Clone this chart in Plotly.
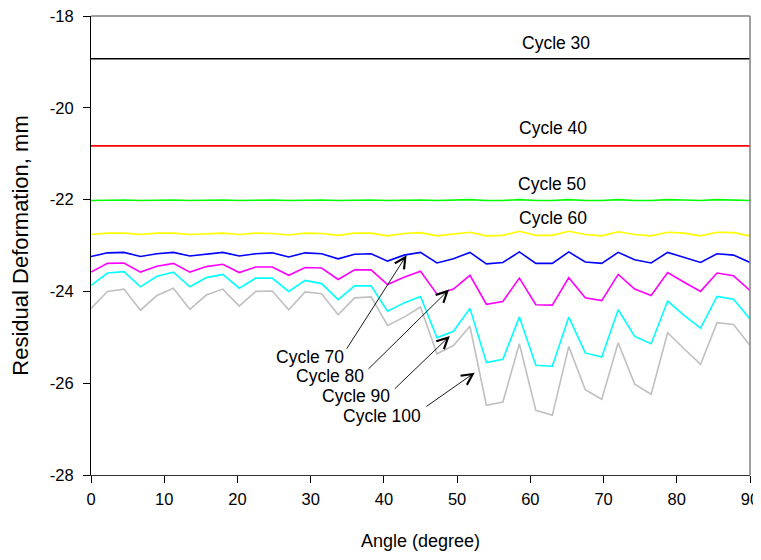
import plotly.graph_objects as go

angle = [0, 2.25, 4.5, 6.75, 9, 11.25, 13.5, 15.75, 18, 20.25, 22.5, 24.75, 27, 29.25,
         31.5, 33.75, 36, 38.25, 40.5, 42.75, 45, 47.25, 49.5, 51.75, 54, 56.25, 58.5,
         60.75, 63, 65.25, 67.5, 69.75, 72, 74.25, 76.5, 78.75, 81, 83.25, 85.5, 87.75, 90]

cycle30 = [-18.93, -18.93, -18.93, -18.93, -18.93, -18.93, -18.93, -18.93, -18.93, -18.93,
           -18.93, -18.93, -18.93, -18.93, -18.93, -18.93, -18.93, -18.93, -18.93, -18.93,
           -18.93, -18.93, -18.93, -18.93, -18.93, -18.93, -18.93, -18.93, -18.93, -18.93,
           -18.93, -18.93, -18.93, -18.93, -18.93, -18.93, -18.93, -18.93, -18.93, -18.93, -18.93]
cycle40 = [-20.83, -20.83, -20.83, -20.83, -20.83, -20.83, -20.83, -20.83, -20.83, -20.83,
           -20.83, -20.83, -20.83, -20.83, -20.83, -20.83, -20.83, -20.83, -20.83, -20.83,
           -20.83, -20.83, -20.83, -20.83, -20.83, -20.83, -20.83, -20.83, -20.83, -20.83,
           -20.83, -20.83, -20.83, -20.83, -20.83, -20.83, -20.83, -20.83, -20.83, -20.83, -20.83]
cycle50 = [-22.02, -22.01, -22.01, -22.02, -22.01, -22.01, -22.02, -22.01, -22.01, -22.02,
           -22.01, -22.01, -22.02, -22.01, -22.01, -22.02, -22.01, -22.01, -22.02, -22.01,
           -22.01, -22.02, -22.01, -22.00, -22.02, -22.02, -22.00, -22.02, -22.02, -22.00,
           -22.02, -22.02, -22.00, -22.02, -22.02, -22.00, -22.01, -22.02, -22.00, -22.01, -22.02]
cycle60 = [-22.76, -22.73, -22.73, -22.76, -22.73, -22.73, -22.76, -22.74, -22.73, -22.76,
           -22.73, -22.74, -22.77, -22.73, -22.74, -22.78, -22.73, -22.73, -22.79, -22.74,
           -22.72, -22.79, -22.75, -22.71, -22.79, -22.78, -22.69, -22.78, -22.78, -22.69,
           -22.76, -22.79, -22.70, -22.76, -22.79, -22.71, -22.73, -22.79, -22.71, -22.72, -22.79]
cycle70 = [-23.24, -23.16, -23.15, -23.24, -23.18, -23.15, -23.23, -23.19, -23.15, -23.23,
           -23.18, -23.16, -23.25, -23.16, -23.18, -23.29, -23.19, -23.18, -23.34, -23.21,
           -23.15, -23.38, -23.29, -23.15, -23.40, -23.37, -23.14, -23.39, -23.39, -23.14,
           -23.36, -23.39, -23.15, -23.31, -23.38, -23.15, -23.26, -23.37, -23.18, -23.21, -23.37]
cycle80 = [-23.58, -23.39, -23.38, -23.58, -23.45, -23.39, -23.58, -23.46, -23.41, -23.59,
           -23.47, -23.47, -23.65, -23.48, -23.49, -23.74, -23.53, -23.53, -23.85, -23.69,
           -23.56, -24.06, -23.95, -23.65, -24.28, -24.22, -23.71, -24.29, -24.30, -23.70,
           -24.14, -24.20, -23.63, -23.95, -24.09, -23.59, -23.80, -24.00, -23.60, -23.66, -23.98]
cycle90 = [-23.87, -23.60, -23.57, -23.90, -23.67, -23.58, -23.90, -23.70, -23.63, -23.93,
           -23.71, -23.71, -24.00, -23.76, -23.83, -24.18, -23.88, -23.88, -24.43, -24.25,
           -24.11, -25.01, -24.87, -24.37, -25.55, -25.48, -24.56, -25.61, -25.63, -24.56,
           -25.34, -25.43, -24.40, -24.98, -25.14, -24.21, -24.52, -24.80, -24.11, -24.17, -24.60]
cycle100 = [-24.37, -24.00, -23.95, -24.41, -24.09, -23.93, -24.39, -24.08, -23.95, -24.32,
            -24.00, -23.99, -24.40, -24.01, -24.05, -24.51, -24.14, -24.12, -24.74, -24.56,
            -24.34, -25.36, -25.18, -24.76, -26.48, -26.41, -25.14, -26.59, -26.70, -25.20,
            -26.14, -26.35, -25.12, -26.02, -26.24, -24.90, -25.25, -25.59, -24.68, -24.72, -25.18]

series_names = ["Cycle 30", "Cycle 40", "Cycle 50", "Cycle 60", "Cycle 70",
                "Cycle 80", "Cycle 90", "Cycle 100"]
series_values = [cycle30, cycle40, cycle50, cycle60, cycle70, cycle80, cycle90, cycle100]
series_colors = ["#000000", "#ff0000", "#00ff00", "#ffff00", "#0000ff",
                 "#ff00ff", "#00ffff", "#c0c0c0"]

x_ticks = [0, 10, 20, 30, 40, 50, 60, 70, 80, 90]
x_ticktext = ["0", "10", "20", "30", "40", "50", "60", "70", "80", "90"]
y_ticks = [-28, -26, -24, -22, -20, -18]
y_ticktext = ["-28", "-26", "-24", "-22", "-20", "-18"]

# plain labels (text position in data units)
top_labels = [("Cycle 30", 63.5, -18.59), ("Cycle 40", 63.1, -20.45),
              ("Cycle 50", 63.0, -21.67), ("Cycle 60", 63.1, -22.41)]
# arrow labels: text, text x, text y, arrow tail x, tail y, tip x, tip y
arrow_labels = [("Cycle 70", 29.9, -25.43, 34.8, -25.28, 43.1, -23.21),
                ("Cycle 80", 32.7, -25.85, 37.7, -25.72, 48.9, -23.96),
                ("Cycle 90", 36.2, -26.28, 41.3, -26.15, 49.0, -24.97),
                ("Cycle 100", 39.7, -26.72, 45.6, -26.53, 52.4, -25.77)]

FONT = "Liberation Sans, Arial, sans-serif"

fig = go.Figure()
for name, vals, col in zip(series_names, series_values, series_colors):
    fig.add_trace(go.Scatter(x=angle, y=vals, mode="lines", name=name,
                             line=dict(color=col, width=1.6), showlegend=False))

annotations = []
for txt, tx, ty in top_labels:
    annotations.append(dict(x=tx, y=ty, xref="x", yref="y", text=txt, showarrow=False,
                            font=dict(family=FONT, size=17.5, color="black")))
for txt, tx, ty, ax0, ay0, hx, hy in arrow_labels:
    annotations.append(dict(x=hx, y=hy, ax=ax0, ay=ay0, xref="x", yref="y",
                            axref="x", ayref="y", text="", showarrow=True,
                            arrowhead=5, arrowsize=2.4, arrowwidth=0.9,
                            arrowcolor="black", standoff=0, startstandoff=0))
    annotations.append(dict(x=tx, y=ty, xref="x", yref="y", text=txt, showarrow=False,
                            font=dict(family=FONT, size=17.5, color="black")))

# the page body has an 8px margin, so the figure is sized to fit inside the window
fig.update_layout(
    width=753, height=544,
    margin=dict(l=83, r=11, t=8, b=77, autoexpand=False),
    paper_bgcolor="white", plot_bgcolor="white",
    font=dict(family=FONT, size=16, color="black"),
    annotations=annotations,
    shapes=[
        dict(type="line", xref="paper", yref="paper", x0=0, x1=1, y0=1, y1=1,
             line=dict(color="#808080", width=1.5)),
        dict(type="line", xref="paper", yref="paper", x0=1, x1=1, y0=0, y1=1,
             line=dict(color="#808080", width=1.5)),
    ],
)
fig.update_xaxes(range=[0, 90], tickvals=x_ticks, ticktext=x_ticktext, ticks="outside",
                 ticklen=7, tickcolor="black", showline=True, linecolor="#333333",
                 linewidth=1.2, showgrid=False, zeroline=False, automargin=False,
                 ticklabelstandoff=2, ticklabeloverflow="allow",
                 title=dict(text="Angle (degree)", font=dict(family=FONT, size=18), standoff=27),
                 tickfont=dict(family=FONT, size=16.5))
fig.update_yaxes(range=[-28, -18], tickvals=y_ticks, ticktext=y_ticktext, ticks="outside",
                 ticklen=7, tickcolor="black", showline=True, linecolor="black",
                 linewidth=1.2, showgrid=False, zeroline=False, automargin=False,
                 ticklabelstandoff=6, ticklabeloverflow="allow",
                 title=dict(text="Residual Deformation, mm", font=dict(family=FONT, size=22), standoff=15),
                 tickfont=dict(family=FONT, size=16.5))

fig.write_html("out.html")
